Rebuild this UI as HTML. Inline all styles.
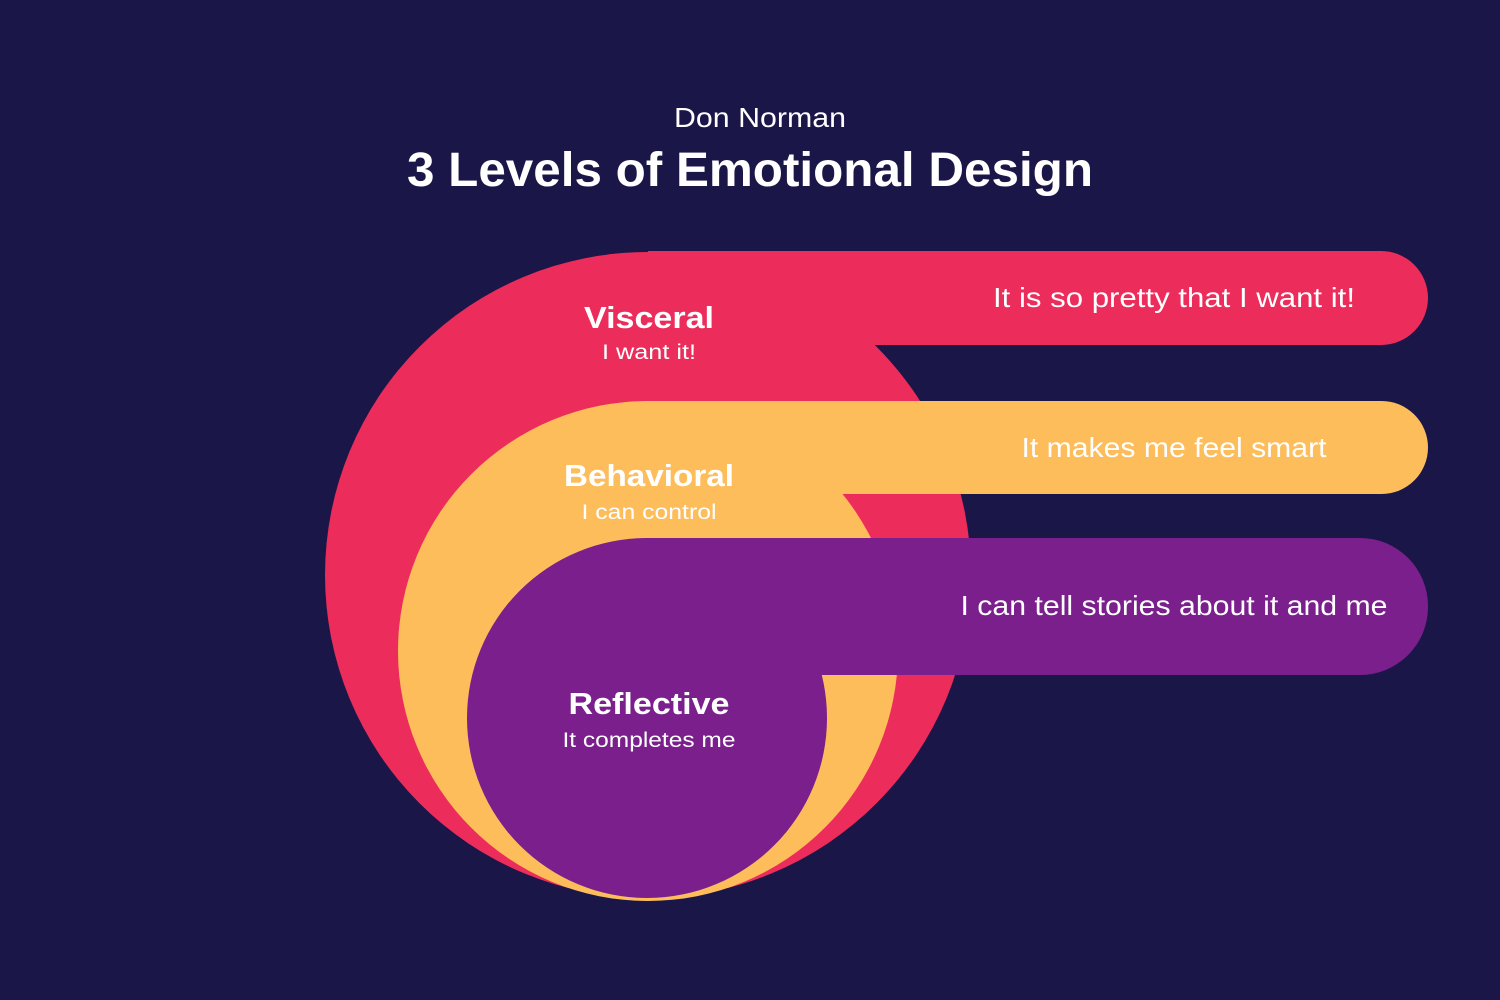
<!DOCTYPE html>
<html><head><meta charset="utf-8"><style>
html,body{margin:0;padding:0;background:#1a1648;}
svg{display:block}
</style></head><body>
<svg width="1500" height="1000" viewBox="0 0 1500 1000" xmlns="http://www.w3.org/2000/svg">
<rect width="1500" height="1000" fill="#1a1648"/>
<g font-family="Liberation Sans, sans-serif" fill="#ffffff" text-anchor="middle">
<text x="760" y="127" font-size="28" textLength="172" lengthAdjust="spacingAndGlyphs">Don Norman</text>
<text x="750" y="186" font-size="48" font-weight="bold" textLength="686" lengthAdjust="spacingAndGlyphs">3 Levels of Emotional Design</text>
</g>
<circle cx="648" cy="575" r="323" fill="#ec2c5a"/>
<rect x="648" y="251" width="780" height="94" rx="47" fill="#ec2c5a"/>
<rect x="648" y="251" width="200" height="94" fill="#ec2c5a"/>
<circle cx="648" cy="651" r="250" fill="#fdbd5b"/>
<rect x="648" y="401" width="780" height="93" rx="46.5" fill="#fdbd5b"/>
<rect x="648" y="401" width="200" height="93" fill="#fdbd5b"/>
<circle cx="647" cy="718" r="180" fill="#7a1f8c"/>
<rect x="647" y="538" width="781" height="137" rx="68" fill="#7a1f8c"/>
<rect x="647" y="538" width="200" height="137" fill="#7a1f8c"/>
<g font-family="Liberation Sans, sans-serif" fill="#ffffff" text-anchor="middle">
<text x="649" y="328" font-size="31" font-weight="bold" textLength="130" lengthAdjust="spacingAndGlyphs">Visceral</text>
<text x="649" y="359" font-size="21" textLength="94" lengthAdjust="spacingAndGlyphs">I want it!</text>
<text x="649" y="486" font-size="31" font-weight="bold" textLength="170" lengthAdjust="spacingAndGlyphs">Behavioral</text>
<text x="649" y="519" font-size="21" textLength="135" lengthAdjust="spacingAndGlyphs">I can control</text>
<text x="649" y="714" font-size="31" font-weight="bold" textLength="161" lengthAdjust="spacingAndGlyphs">Reflective</text>
<text x="649" y="747" font-size="21" textLength="173" lengthAdjust="spacingAndGlyphs">It completes me</text>
<text x="1174" y="307" font-size="28" textLength="362" lengthAdjust="spacingAndGlyphs">It is so pretty that I want it!</text>
<text x="1174" y="457" font-size="28" textLength="305" lengthAdjust="spacingAndGlyphs">It makes me feel smart</text>
<text x="1174" y="615" font-size="28" textLength="427" lengthAdjust="spacingAndGlyphs">I can tell stories about it and me</text>
</g>
</svg>
</body></html>
